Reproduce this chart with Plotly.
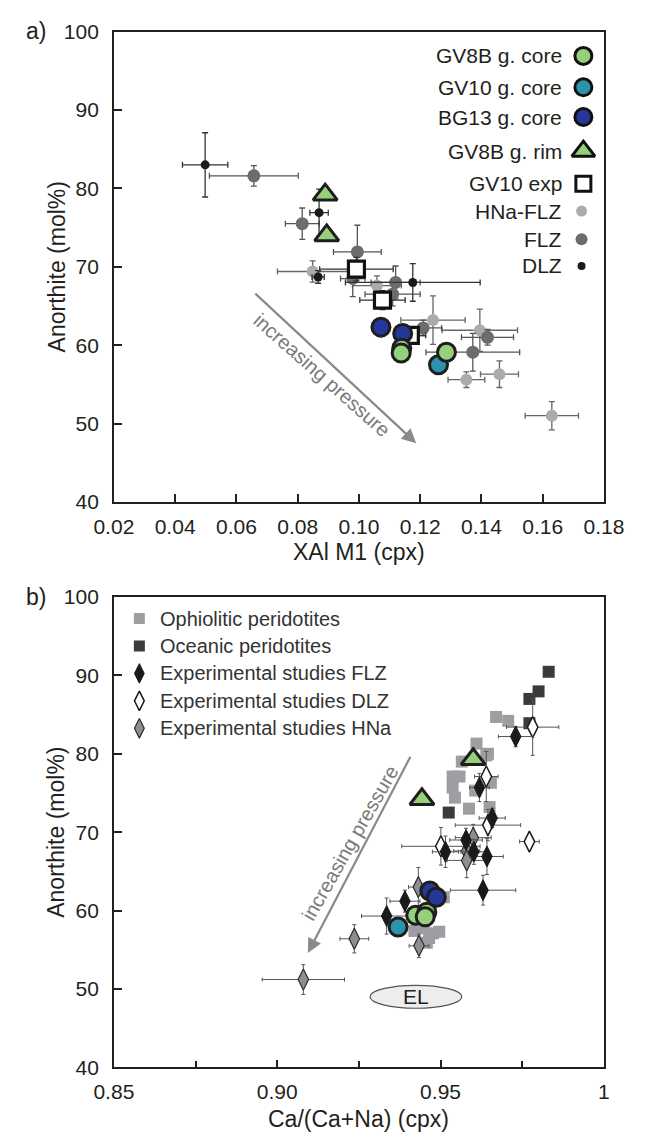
import plotly.graph_objects as go

# ---------------- Panel a data (XAl M1 vs Anorthite) ----------------
a_hna_x  = [0.0849, 0.1059, 0.1242, 0.1395, 0.1351, 0.1459, 0.1630]
a_hna_y  = [69.4, 67.6, 63.2, 61.9, 55.6, 56.3, 51.0]
a_hna_xe = [0.0115, 0.0080, 0.0105, 0.0123, 0.0060, 0.0062, 0.0087]
a_hna_ye = [1.35, 1.25, 3.1, 2.7, 1.0, 1.7, 1.8]

a_flz_x  = [0.0657, 0.0815, 0.0995, 0.0980, 0.1120, 0.1110, 0.1210, 0.1372, 0.1420]
a_flz_y  = [81.6, 75.5, 71.9, 68.5, 68.0, 66.5, 62.2, 59.1, 61.0]
a_flz_xe = [0.0145, 0.0055, 0.0078, 0.0040, 0.0080, 0.0090, 0.0060, 0.0153, 0.0085]
a_flz_ye = [1.3, 2.0, 3.4, 2.3, 2.1, 1.5, 1.0, 2.4, 1.0]

a_dlz_x  = [0.0498, 0.0870, 0.0867, 0.1176]
a_dlz_y  = [83.0, 76.9, 68.7, 68.0]
a_dlz_xe = [0.0074, 0.0030, 0.0020, 0.0220]
a_dlz_ye = [4.1, 3.0, 0.8, 2.4]

a_exp_x  = [0.0992, 0.1077, 0.1168]
a_exp_y  = [69.7, 65.75, 61.25]
a_exp_xe = [0.0120, 0.0074, 0.0050]
a_exp_ye = [1.5, 1.2, 1.0]

a_bg13_x = [0.1072, 0.1143]
a_bg13_y = [62.3, 61.5]
a_gv8c_x = [0.1140, 0.1138, 0.1286]
a_gv8c_y = [59.6, 59.0, 59.1]
a_gv10_x = [0.1260]
a_gv10_y = [57.5]
a_rim_x  = [0.0890, 0.0895]
a_rim_y  = [79.2, 74.0]

a_xticks = [0.02, 0.04, 0.06, 0.08, 0.10, 0.12, 0.14, 0.16, 0.18]
y_ticks  = [40, 50, 60, 70, 80, 90, 100]

# ---------------- Panel b data (Ca/(Ca+Na) vs Anorthite) ----------------
b_oph_x = [0.9670, 0.9707, 0.9610, 0.9645, 0.9640, 0.9565, 0.9537, 0.9558, 0.9537,
           0.9544, 0.9587, 0.9654, 0.9606, 0.9650,
           0.9448, 0.9477, 0.9496, 0.9420, 0.9458, 0.9510, 0.9465]
b_oph_y = [84.7, 84.2, 81.3, 80.0, 79.8, 79.0, 77.1, 77.1, 75.7,
           74.4, 73.0, 76.3, 75.3, 73.2,
           57.75, 57.1, 57.3, 57.4, 55.9, 61.7, 56.5]

b_oce_x = [0.9831, 0.9800, 0.9772, 0.9772, 0.9525]
b_oce_y = [90.46, 87.96, 87.0, 83.9, 72.5]

b_flz_x  = [0.9730, 0.9619, 0.9658, 0.9515, 0.9578, 0.9602, 0.9642, 0.9630, 0.9391, 0.9335]
b_flz_y  = [82.2, 75.7, 71.8, 67.5, 69.0, 67.5, 66.9, 62.6, 61.2, 59.3]
b_flz_xe = [0.0053, 0.0030, 0.0040, 0.0040, 0.0050, 0.0040, 0.0050, 0.0100, 0.0046, 0.0077]
b_flz_ye = [1.3, 1.8, 1.2, 2.0, 1.5, 1.6, 2.3, 1.9, 1.4, 2.3]

b_dlz_x  = [0.9782, 0.9640, 0.9645, 0.9772, 0.9501]
b_dlz_y  = [83.4, 77.1, 70.9, 68.8, 68.2]
b_dlz_xe = [0.0080, 0.0036, 0.0100, 0.0030, 0.0120]
b_dlz_ye = [3.6, 3.2, 2.0, 0.0, 2.4]

b_hna_x  = [0.9600, 0.9580, 0.9580, 0.9432, 0.9434, 0.9236, 0.9080]
b_hna_y  = [69.3, 67.6, 66.4, 63.0, 55.5, 56.4, 51.2]
b_hna_xe = [0.0055, 0.0040, 0.0060, 0.0030, 0.0030, 0.0044, 0.0126]
b_hna_ye = [1.7, 1.5, 2.2, 2.5, 1.5, 1.8, 1.9]

b_bg13_x = [0.9467, 0.9487]
b_bg13_y = [62.5, 61.7]
b_gv8c_x = [0.9424, 0.9458, 0.9453]
b_gv8c_y = [59.4, 59.8, 59.2]
b_gv10_x = [0.9370]
b_gv10_y = [57.9]
b_rim_x  = [0.9600, 0.9443]
b_rim_y  = [79.3, 74.2]

b_xticks = [0.85, 0.90, 0.95, 1.0]
b_xticktext = ["0.85", "0.90", "0.95", "1"]
b_xminor = [0.875, 0.925, 0.975]

# ---------------- styles ----------------
W, H = 653, 1144
FONT = "Liberation Sans, Arial, sans-serif"
TXT = "#231f20"
GREEN = "#95d07a"
TEAL = "#2b94ac"
BLUE = "#26379a"
OUTL = "#1e1e1e"
HNA = "#a9abae"
FLZ = "#6b6c6f"
DLZ = "#1a1a1a"
OPH = "#9c9ea1"
OCE = "#3b3b3d"
HNAB = "#8c8e91"
ERR = "#555555"


def px(v):
    return v / W


def py(v):
    return 1 - v / H


fig = go.Figure()


def errs(arr, col=ERR, w=1.3, cap=3):
    return dict(type="data", array=arr, visible=True, color=col, thickness=w, width=cap)


def add(xs, ys, xa, ya, symbol, size, color, lc=OUTL, lw=0, xe=None, ye=None, ecol=ERR, ew=1.3, cap=3):
    kw = {}
    if xe is not None:
        kw["error_x"] = errs(xe, ecol, ew, cap)
    if ye is not None:
        kw["error_y"] = errs(ye, ecol, ew, cap)
    fig.add_trace(go.Scatter(
        x=xs, y=ys, xaxis=xa, yaxis=ya, mode="markers",
        marker=dict(symbol=symbol, size=size, color=color, line=dict(color=lc, width=lw)),
        showlegend=False, hoverinfo="skip", cliponaxis=False, **kw))


# ---- panel a points ----
add(a_hna_x, a_hna_y, "x", "y", "circle", 12, HNA, xe=a_hna_xe, ye=a_hna_ye, ecol="#666666")
add(a_flz_x, a_flz_y, "x", "y", "circle", 13, FLZ, xe=a_flz_xe, ye=a_flz_ye, ecol="#555555")
add(a_dlz_x, a_dlz_y, "x", "y", "circle", 9, DLZ, xe=a_dlz_xe, ye=a_dlz_ye, ecol="#333333")
add(a_exp_x, a_exp_y, "x", "y", "square", 16, "white", lc="#111111", lw=3.2,
    xe=a_exp_xe, ye=a_exp_ye, ecol="#333333")
add(a_bg13_x, a_bg13_y, "x", "y", "circle", 18, BLUE, lw=3)
add(a_gv10_x, a_gv10_y, "x", "y", "circle", 18, TEAL, lw=3)
add(a_gv8c_x, a_gv8c_y, "x", "y", "circle", 18, GREEN, lw=3)
add(a_rim_x, a_rim_y, "x", "y", "triangle-up", 21, GREEN, lw=3)

# ---- panel b points ----
add(b_oph_x, b_oph_y, "x2", "y2", "square", 12, OPH)
add(b_oce_x, b_oce_y, "x2", "y2", "square", 12, OCE)
add(b_hna_x, b_hna_y, "x2", "y2", "diamond-tall", 15, HNAB, lc="#2a2a2a", lw=1.2,
    xe=b_hna_xe, ye=b_hna_ye, ew=1.0, cap=2)
add(b_dlz_x, b_dlz_y, "x2", "y2", "diamond-tall", 15, "white", lc="#1a1a1a", lw=1.5,
    xe=b_dlz_xe, ye=b_dlz_ye, ew=1.0, cap=2)
add(b_flz_x, b_flz_y, "x2", "y2", "diamond-tall", 15, "#1a1a1a", lc="#1a1a1a", lw=1,
    xe=b_flz_xe, ye=b_flz_ye, ew=1.0, cap=2)
add(b_gv10_x, b_gv10_y, "x2", "y2", "circle", 18, TEAL, lw=3)
add(b_gv8c_x, b_gv8c_y, "x2", "y2", "circle", 18, GREEN, lw=3)
add(b_bg13_x, b_bg13_y, "x2", "y2", "circle", 18, BLUE, lw=3)
add(b_rim_x, b_rim_y, "x2", "y2", "triangle-up", 21, GREEN, lw=3)

# ---- panel a legend (text right, marker right-most) ----
leg_a = [
    ("GV8B g. core", "circle", 17, GREEN, 3, 96.9),
    ("GV10 g. core", "circle", 17, TEAL, 3, 92.9),
    ("BG13 g. core", "circle", 17, BLUE, 3, 89.1),
    ("GV8B g. rim", "triangle-up", 20, GREEN, 3, 84.75),
    ("GV10 exp", "square", 15, "white", 3, 80.6),
    ("HNa-FLZ", "circle", 11, HNA, 0, 77.1),
    ("FLZ", "circle", 12, FLZ, 0, 73.5),
    ("DLZ", "circle", 8, DLZ, 0, 70.1),
]
annotations = []
for name, sym, sz, col, lw, yy in leg_a:
    mx = 0.1733 if lw else 0.1727
    fig.add_trace(go.Scatter(x=[mx], y=[yy], xaxis="x", yaxis="y", mode="markers",
                             marker=dict(symbol=sym, size=sz, color=col,
                                         line=dict(color="#111111", width=lw)),
                             showlegend=False, hoverinfo="skip"))
    annotations.append(dict(x=0.1669, y=yy, xref="x", yref="y", text=name, showarrow=False,
                            xanchor="right", yanchor="middle",
                            font=dict(size=21, color=TXT, family=FONT)))

# ---- panel b legend ----
leg_b = [
    ("Ophiolitic peridotites", "square", 11, OPH, None, 0, 97.25),
    ("Oceanic peridotites", "square", 11, OCE, None, 0, 93.75),
    ("Experimental studies FLZ", "diamond-tall", 14, "#1a1a1a", "#1a1a1a", 1, 90.25),
    ("Experimental studies DLZ", "diamond-tall", 14, "white", "#1a1a1a", 1.5, 86.75),
    ("Experimental studies HNa", "diamond-tall", 14, HNAB, "#2a2a2a", 1.2, 83.25),
]
for name, sym, sz, col, lc, lw, yy in leg_b:
    fig.add_trace(go.Scatter(x=[0.8578], y=[yy], xaxis="x2", yaxis="y2", mode="markers",
                             marker=dict(symbol=sym, size=sz, color=col,
                                         line=dict(color=lc or col, width=lw)),
                             showlegend=False, hoverinfo="skip"))
    annotations.append(dict(x=0.8635, y=yy, xref="x2", yref="y2", text=name, showarrow=False,
                            xanchor="left", yanchor="middle",
                            font=dict(size=20, color="#333333", family=FONT)))

# ---- arrows and "increasing pressure" ----
annotations += [
    dict(x=0.1187, y=47.5, ax=0.0657, ay=66.75, xref="x", yref="y", axref="x", ayref="y",
         text="", showarrow=True, arrowhead=2, arrowsize=1.3, arrowwidth=2.2,
         arrowcolor="#8a8a8a"),
    dict(x=0.0880, y=56.25, xref="x", yref="y", text="increasing pressure", showarrow=False,
         xanchor="center", yanchor="middle",
         textangle=41.5, font=dict(size=20, color="#7a7a7a", family=FONT)),
    dict(x=0.9094, y=54.6, ax=0.9410, ay=79.8, xref="x2", yref="y2", axref="x2", ayref="y2",
         text="", showarrow=True, arrowhead=2, arrowsize=1.3, arrowwidth=2.2,
         arrowcolor="#8a8a8a"),
    dict(x=0.9223, y=68.6, xref="x2", yref="y2", text="increasing pressure", showarrow=False,
         xanchor="center", yanchor="middle",
         textangle=-60.4, font=dict(size=20, color="#7a7a7a", family=FONT)),
    dict(x=0.94245, y=49.0, xref="x2", yref="y2", text="EL", showarrow=False,
         xanchor="center", yanchor="middle",
         font=dict(size=21, color=TXT, family=FONT)),
]

# ---- axis titles and panel labels ----
def ptext(x, y, text, size, angle=0):
    return dict(x=px(x), y=py(y), xref="paper", yref="paper", text=text, textangle=angle,
                showarrow=False, xanchor="center", yanchor="middle",
                font=dict(size=size, color=TXT, family=FONT))


annotations += [
    ptext(39, 260, "Anorthite (mol%)", 23, -90),
    ptext(361, 551, "XAl M1 (cpx)", 23),
    ptext(39, 837, "Anorthite (mol%)", 23, -90),
    ptext(361, 1130, "Ca/(Ca+Na) (cpx)", 23),
    ptext(17, 19, "a)", 23),
    ptext(17, 597, "b)", 23),
]

shapes = [
    dict(type="circle", xref="x2", yref="y2", x0=0.9284, x1=0.9565, y0=47.54, y1=50.46,
         fillcolor="#ededed", line=dict(color="#555555", width=1.2), layer="below"),
]

axis_common = dict(showline=True, linecolor=TXT, linewidth=1.6, mirror=True, ticks="inside",
                   ticklen=8, tickwidth=1.5, tickcolor=TXT, showgrid=False, zeroline=False,
                   tickfont=dict(size=21, color=TXT, family=FONT))

fig.update_layout(
    width=W, height=H, autosize=False,
    margin=dict(l=0, r=0, t=0, b=0),
    paper_bgcolor="white", plot_bgcolor="white",
    font=dict(family=FONT, color=TXT),
    showlegend=False,
    xaxis=dict(domain=[px(100), px(622)], range=[0.02, 0.18], anchor="y",
               tickvals=a_xticks, ticktext=[f"{v:.2f}" for v in a_xticks],
               ticklabelstandoff=5, **axis_common),
    yaxis=dict(domain=[py(500), py(20)], range=[40, 100], anchor="x",
               tickvals=y_ticks, ticklabelstandoff=9, **axis_common),
    xaxis2=dict(domain=[px(100), px(622)], range=[0.85, 1.0], anchor="y2",
                tickvals=b_xticks, ticktext=b_xticktext, ticklabelstandoff=5,
                minor=dict(tickmode="array", tickvals=b_xminor, ticks="inside", ticklen=7,
                           tickwidth=1.5, tickcolor=TXT, showgrid=False),
                **axis_common),
    yaxis2=dict(domain=[py(1077), py(597)], range=[40, 100], anchor="x2",
                tickvals=y_ticks, ticklabelstandoff=9, **axis_common),
    annotations=annotations,
    shapes=shapes,
)

fig.write_html("out.html")
